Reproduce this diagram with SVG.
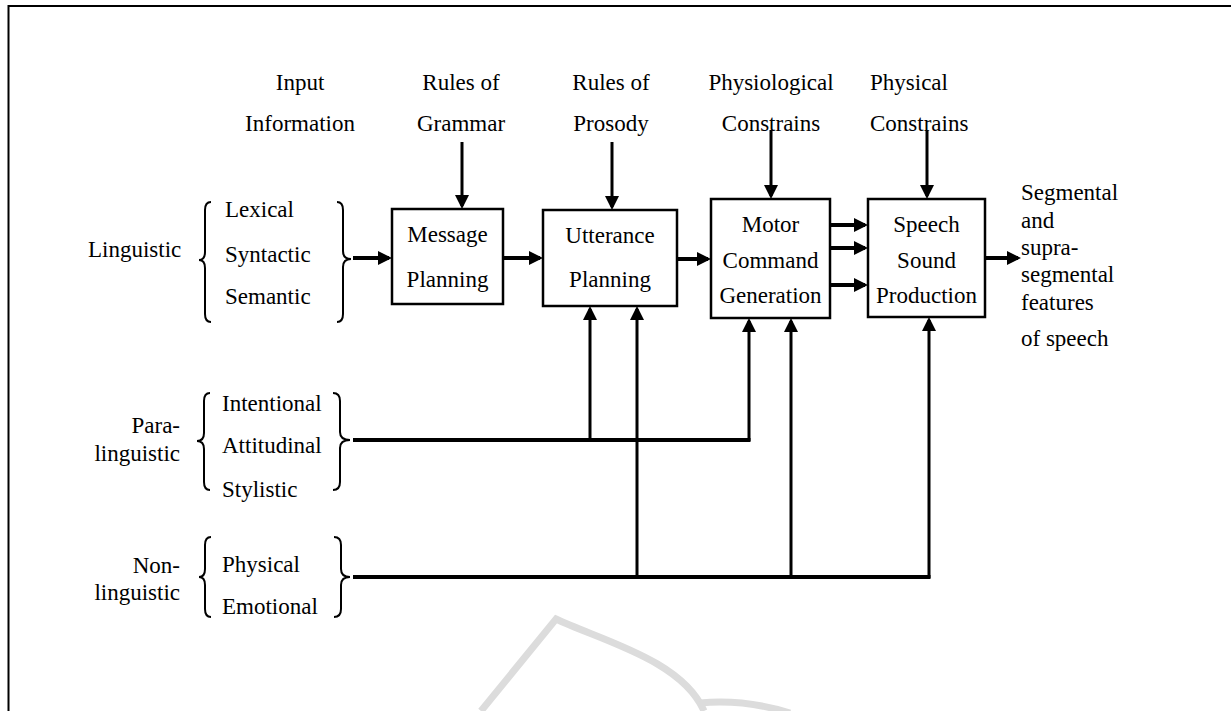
<svg xmlns="http://www.w3.org/2000/svg" width="1231" height="711" viewBox="0 0 1231 711">
<style>
text{font-family:"Liberation Serif","Times New Roman",serif;font-size:23px;fill:#000}
.m{text-anchor:middle}.e{text-anchor:end}
.box{fill:#fff;stroke:#000;stroke-width:2.5}
.brace{fill:none;stroke:#000;stroke-width:2}
.thick{stroke:#000;stroke-width:4;fill:none}
.thin{stroke:#000;stroke-width:3;fill:none}
.arr{marker-end:url(#ah)}
</style>
<defs>
<marker id="ah" markerUnits="userSpaceOnUse" markerWidth="15" markerHeight="14" refX="11" refY="7" orient="auto">
<path d="M0,0 L14,7 L0,14 z" fill="#000"/>
</marker>
</defs>
<rect x="0" y="0" width="1231" height="711" fill="#fff"/>
<path d="M8.5,711 V6 H1231" fill="none" stroke="#000" stroke-width="2"/>
<g id="watermark" fill="none" stroke="#dcdcdc" stroke-width="7">
<path d="M481,711 L556,619 C600,640 682,660 704,711"/>
<path d="M700,703 Q745,699 790,713"/>
</g>
<g id="hdr-input"><text class="m" x="300" y="90">Input</text><text class="m" x="300" y="131">Information</text></g>
<g id="hdr-grammar"><text class="m" x="461" y="90">Rules of</text><text class="m" x="461" y="131">Grammar</text></g>
<g id="hdr-prosody"><text class="m" x="611" y="90">Rules of</text><text class="m" x="611" y="131">Prosody</text></g>
<g id="hdr-physio"><text class="m" x="771" y="90">Physiological</text><text class="m" x="771" y="131">Constrains</text></g>
<g id="hdr-physical"><text x="870" y="90">Physical</text><text x="870" y="131">Constrains</text></g>
<g id="linguistic">
<text x="88" y="257">Linguistic</text>
<path class="brace" d="M211,202 Q205,202 205,210 L205,252 Q205,260 199,260 Q205,260 205,268 L205,314 Q205,322 211,322"/>
<text x="225" y="217">Lexical</text><text x="225" y="262">Syntactic</text><text x="225" y="304">Semantic</text>
<path class="brace" d="M337,202 Q343,202 343,210 L343,251 Q343,259 351,259 Q343,259 343,267 L343,314 Q343,322 337,322"/>
</g>
<g id="paralinguistic">
<text class="e" x="180" y="433">Para-</text><text class="e" x="180" y="461">linguistic</text>
<path class="brace" d="M210,393 Q204,393 204,401 L204,433 Q204,441 197,441 Q204,441 204,449 L204,482 Q204,490 210,490"/>
<text x="222" y="411">Intentional</text><text x="222" y="453">Attitudinal</text><text x="222" y="497">Stylistic</text>
<path class="brace" d="M333,393 Q340,393 340,401 L340,432 Q340,440 350,440 Q340,440 340,448 L340,482 Q340,490 333,490"/>
</g>
<g id="nonlinguistic">
<text class="e" x="180" y="573">Non-</text><text class="e" x="180" y="600">linguistic</text>
<path class="brace" d="M211,537 Q205,537 205,545 L205,569 Q205,577 199,577 Q205,577 205,585 L205,609 Q205,617 211,617"/>
<text x="222" y="572">Physical</text><text x="222" y="614">Emotional</text>
<path class="brace" d="M334,537 Q341,537 341,545 L341,569 Q341,577 350,577 Q341,577 341,585 L341,609 Q341,617 334,617"/>
</g>
<g id="message-planning"><rect class="box" x="392" y="209" width="111" height="95"/><text class="m" x="447.5" y="242">Message</text><text class="m" x="447.5" y="287">Planning</text></g>
<g id="utterance-planning"><rect class="box" x="543" y="210" width="134" height="96"/><text class="m" x="610" y="243">Utterance</text><text class="m" x="610" y="287">Planning</text></g>
<g id="motor-command"><rect class="box" x="711" y="199" width="119" height="119"/><text class="m" x="770.5" y="232">Motor</text><text class="m" x="770.5" y="268">Command</text><text class="m" x="770.5" y="303">Generation</text></g>
<g id="speech-sound"><rect class="box" x="868" y="199" width="117" height="118"/><text class="m" x="926.5" y="232">Speech</text><text class="m" x="926.5" y="268">Sound</text><text class="m" x="926.5" y="303">Production</text></g>
<g id="output"><text x="1021" y="200">Segmental</text><text x="1021" y="228">and</text><text x="1021" y="255">supra-</text><text x="1021" y="282">segmental</text><text x="1021" y="310">features</text><text x="1021" y="346">of speech</text></g>
<g id="connectors">
<line class="thick arr" x1="353" y1="258" x2="389" y2="258"/>
<line class="thick arr" x1="503" y1="258" x2="540" y2="258"/>
<line class="thick arr" x1="677" y1="259" x2="708" y2="259"/>
<line class="thick arr" x1="830" y1="225" x2="865" y2="225"/>
<line class="thick arr" x1="830" y1="248" x2="865" y2="248"/>
<line class="thick arr" x1="830" y1="285" x2="865" y2="285"/>
<line class="thick arr" x1="985" y1="258" x2="1018" y2="258"/>
<line class="thin arr" x1="462" y1="142" x2="462" y2="206"/>
<line class="thin arr" x1="612" y1="142" x2="612" y2="207"/>
<line class="thin arr" x1="771" y1="130" x2="771" y2="196"/>
<line class="thin arr" x1="927" y1="130" x2="927" y2="196"/>
<line class="thick" x1="353" y1="440" x2="750.5" y2="440"/>
<line class="thin arr" x1="749" y1="441" x2="749" y2="321"/>
<line class="thin arr" x1="590" y1="440" x2="590" y2="309"/>
<line class="thick" x1="353" y1="577" x2="930.5" y2="577"/>
<line class="thin arr" x1="637" y1="577" x2="637" y2="309"/>
<line class="thin arr" x1="791" y1="577" x2="791" y2="321"/>
<line class="thin arr" x1="929" y1="578" x2="929" y2="320"/>
</g>
</svg>
